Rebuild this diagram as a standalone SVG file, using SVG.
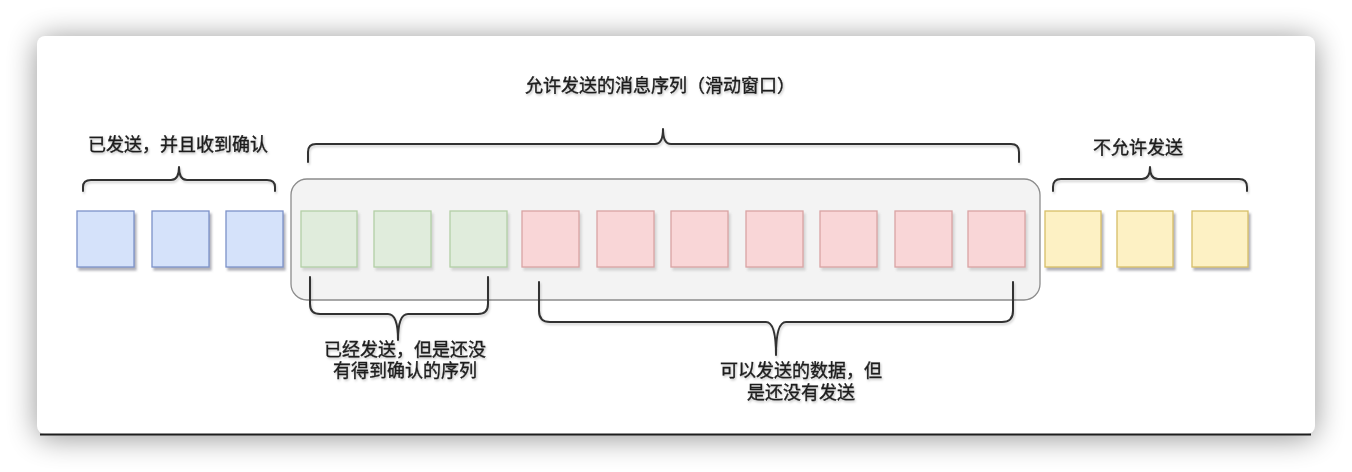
<svg xmlns="http://www.w3.org/2000/svg" width="1352" height="472" viewBox="0 0 1352 472">
  <defs>
    <filter id="cardShadow" x="-10%" y="-30%" width="120%" height="160%">
      <feGaussianBlur stdDeviation="15"/>
    </filter>
    <filter id="boxShadow" x="-20%" y="-20%" width="150%" height="150%">
      <feDropShadow dx="2" dy="3" stdDeviation="1.2" flood-color="#6f6f80" flood-opacity="0.55"/>
    </filter>
    <filter id="boxShadowLight" x="-20%" y="-20%" width="150%" height="150%">
      <feDropShadow dx="2" dy="3" stdDeviation="1.2" flood-color="#8a8a8a" flood-opacity="0.3"/>
    </filter>
    <filter id="textShadow" x="-10%" y="-30%" width="120%" height="160%">
      <feDropShadow dx="1" dy="1.5" stdDeviation="1" flood-color="#000" flood-opacity="0.25"/>
    </filter>
    <filter id="lineShadow" x="-5%" y="-20%" width="110%" height="140%">
      <feDropShadow dx="1" dy="2" stdDeviation="1" flood-color="#000" flood-opacity="0.18"/>
    </filter>
  </defs>
  <style>
    .lbl { font-family: "Noto Sans CJK SC", "Noto Sans", sans-serif; font-size: 18px; fill: #1c1c1c; stroke: #1c1c1c; stroke-width: 0.35; text-anchor: middle; }
    .brace { fill: none; stroke: #333333; stroke-width: 2; stroke-linejoin: round; stroke-linecap: round; }
    .blue { fill: #d5e2fa; stroke: #7d92c9; stroke-width: 1.3; }
    .green { fill: #e0ecdc; stroke: #b3cfa6; stroke-width: 1.3; }
    .red { fill: #f9d6d7; stroke: #d9a3a4; stroke-width: 1.3; }
    .yellow { fill: #fdf1c4; stroke: #d8bf68; stroke-width: 1.3; }
  </style>

  <!-- background and card -->
  <rect x="0" y="0" width="1352" height="472" fill="#ffffff"/>
  <rect x="37" y="38" width="1278" height="400" rx="10" fill="#000" opacity="0.42" filter="url(#cardShadow)"/>
  <rect x="37" y="36" width="1278" height="398" rx="8" fill="#ffffff"/>
  <line x1="40" y1="434.5" x2="1311" y2="434.5" stroke="#1e1e1e" stroke-width="2.2"/>

  <!-- sliding window -->
  <g id="window">
    <rect x="291" y="179" width="749" height="121" rx="16" fill="#f3f3f3" stroke="#8c8c8c" stroke-width="1.3"/>
  </g>

  <!-- sent and acknowledged -->
  <g id="acked" filter="url(#boxShadow)">
    <rect class="blue" x="77" y="211" width="57" height="56"/>
    <rect class="blue" x="152" y="211" width="57" height="56"/>
    <rect class="blue" x="226" y="211" width="57" height="56"/>
  </g>
  <!-- sent, not acknowledged -->
  <g id="unacked" filter="url(#boxShadowLight)">
    <rect class="green" x="301" y="211" width="56" height="56"/>
    <rect class="green" x="374" y="211" width="57" height="56"/>
    <rect class="green" x="450" y="211" width="57" height="56"/>
  </g>
  <!-- sendable, not sent -->
  <g id="sendable" filter="url(#boxShadowLight)">
    <rect class="red" x="522" y="211" width="57" height="56"/>
    <rect class="red" x="597" y="211" width="57" height="56"/>
    <rect class="red" x="671" y="211" width="57" height="56"/>
    <rect class="red" x="746" y="211" width="57" height="56"/>
    <rect class="red" x="820" y="211" width="57" height="56"/>
    <rect class="red" x="895" y="211" width="57" height="56"/>
    <rect class="red" x="968" y="211" width="57" height="56"/>
  </g>
  <!-- not allowed -->
  <g id="notallowed" filter="url(#boxShadow)">
    <rect class="yellow" x="1045" y="211" width="56" height="56"/>
    <rect class="yellow" x="1117" y="211" width="56" height="56"/>
    <rect class="yellow" x="1192" y="211" width="56" height="56"/>
  </g>

  <!-- braces -->
  <g id="connectors" filter="url(#lineShadow)">
    <path class="brace" d="M83,191 L83,187 Q83,180 91,180 L171,180 Q179,180 179,167 Q179,180 187,180 L267,180 Q275,180 275,187 L275,191"/>
    <path class="brace" d="M308,162 L308,152 Q308,144 316,144 L655,144 Q663,144 663,129 Q663,144 671,144 L1011,144 Q1019,144 1019,152 L1019,162"/>
    <path class="brace" d="M1053,191 L1053,187 Q1053,179 1061,179 L1142,179 Q1150,179 1150,167 Q1150,179 1158,179 L1239,179 Q1247,179 1247,187 L1247,191"/>
    <path class="brace" d="M310,277 L310,304 Q310,314 320,314 L388,314 Q398,314 398,340 Q398,314 408,314 L478,314 Q488,314 488,304 L488,277"/>
    <path class="brace" d="M539,282 L539,311 Q539,322 550,322 L766,322 Q776,322 776,355 Q776,322 786,322 L1002,322 Q1013,322 1013,311 L1013,282"/>
  </g>

  <!-- labels -->
  <g id="labels" filter="url(#textShadow)">
    <text class="lbl" x="178" y="151">已发送，并且收到确认</text>
    <text class="lbl" x="660" y="92">允许发送的消息序列（滑动窗口）</text>
    <text class="lbl" x="1138" y="154">不允许发送</text>
    <text class="lbl" x="405" y="356">已经发送，但是还没<tspan x="405" dy="21">有得到确认的序列</tspan></text>
    <text class="lbl" x="801" y="377">可以发送的数据，但<tspan x="801" dy="22">是还没有发送</tspan></text>
  </g>
</svg>
